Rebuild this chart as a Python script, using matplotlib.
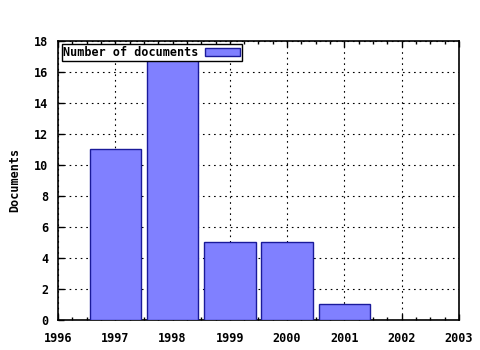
import matplotlib
matplotlib.use('Agg')
import matplotlib.pyplot as plt
from matplotlib.ticker import MultipleLocator

years = [1997, 1998, 1999, 2000, 2001]
docs = [11, 17, 5, 5, 1]

plt.rcParams['font.family'] = 'DejaVu Sans Mono'
plt.rcParams['font.weight'] = 'bold'
plt.rcParams['font.size'] = 8.5

fig = plt.figure(figsize=(4.8, 3.5), dpi=100)
ax = fig.add_axes([0.121, 0.086, 0.835, 0.797])

ax.bar(years, docs, width=0.9, color='#8080ff', edgecolor='#1a1a9a', linewidth=1.0,
       label='Number of documents', zorder=3)

ax.set_xlim(1996, 2003)
ax.set_ylim(0, 18)
ax.xaxis.set_major_locator(MultipleLocator(1))
ax.xaxis.set_minor_locator(MultipleLocator(0.25))
ax.yaxis.set_major_locator(MultipleLocator(2))
ax.tick_params(which='both', direction='in', top=True, right=False, length=4, width=1)
ax.tick_params(which='minor', length=2)
ax.tick_params(axis='x', which='major', pad=9)
ax.tick_params(axis='y', which='major', pad=7)
ax.grid(True, which='major', linestyle=(0, (1.5, 3.5)), color='black', linewidth=0.8, zorder=0)
for s in ax.spines.values():
    s.set_linewidth(1.2)

ax.set_ylabel('Documents', fontweight='bold', labelpad=9)

leg = ax.legend(loc='upper left', markerfirst=False, fancybox=False, framealpha=1,
                edgecolor='black', borderpad=0.15, handlelength=3.0, handleheight=0.6,
                borderaxespad=0.3, handletextpad=0.5)
leg.get_frame().set_linewidth(1.0)

fig.savefig('out.png', dpi=100)
